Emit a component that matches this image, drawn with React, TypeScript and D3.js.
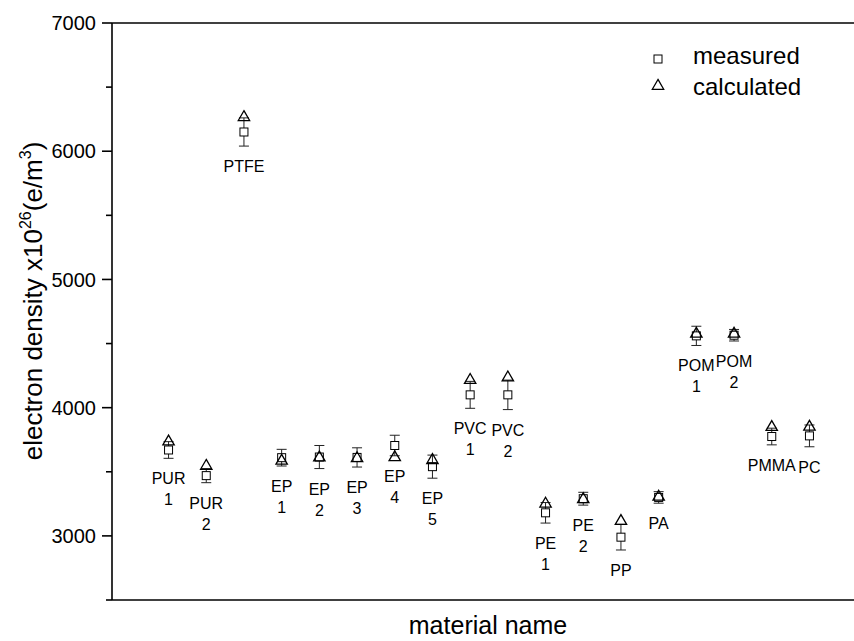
import React from "react";
import * as d3 from "d3";

const names = ["PUR", "PUR", "PTFE", "EP", "EP", "EP", "EP", "EP", "PVC", "PVC", "PE", "PE", "PP", "PA", "POM", "POM", "PMMA", "PC"];
const subLabels = ["1", "2", "", "1", "2", "3", "4", "5", "1", "2", "1", "2", "", "", "1", "2", "", ""];
const measured = [3670, 3470, 6150, 3610, 3615, 3612, 3705, 3540, 4100, 4100, 3180, 3290, 2990, 3300, 4560, 4565, 3775, 3780];
const measuredErr = [65, 55, 110, 65, 90, 75, 80, 90, 105, 115, 80, 50, 100, 45, 75, 45, 65, 85];
const calculated = [3735, 3545, 6265, 3585, 3610, 3605, 3612, 3590, 4215, 4235, 3250, 3285, 3115, 3305, 4575, 4575, 3848, 3850];
const yMajorTicks = [3000, 4000, 5000, 6000, 7000];
const yMinorTicks = [2500, 3500, 4500, 5500, 6500];
const legendLabels = ["measured", "calculated"];

const W = 854;
const H = 641;
const FONT = "'Liberation Sans', Arial, Helvetica, sans-serif";

export default function App() {
  const left = 112, top = 23, bottom = 600;
  const y = d3.scaleLinear().domain([2500, 7000]).range([bottom, top]);
  const x = d3.scaleLinear().domain([-1.5, 18.5]).range([left, left + 20 * 37.7]);
  const tri = d3.symbol().type(d3.symbolTriangle).size(56)();

  return (
    <svg width={W} height={H} style={{ position: "absolute", left: 0, top: 0, background: "#fff" }} fontFamily={FONT}>
      <rect x={0} y={0} width={W} height={H} fill="#fff" />
      {/* frame */}
      <line x1={left} x2={W} y1={top} y2={top} stroke="#000" strokeWidth={1.6} />
      <line x1={left} x2={W} y1={bottom} y2={bottom} stroke="#000" strokeWidth={1.6} />
      <line x1={left} x2={left} y1={top} y2={bottom} stroke="#000" strokeWidth={1.6} />
      {yMajorTicks.map((t) => (
        <g key={"M" + t}>
          <line x1={left - 10} x2={left} y1={y(t)} y2={y(t)} stroke="#000" strokeWidth={1.6} />
          <text x={left - 16} y={y(t)} dy="0.36em" textAnchor="end" fontSize={20} fill="#000">{t}</text>
        </g>
      ))}
      {yMinorTicks.map((t) => (
        <line key={"m" + t} x1={left - 6} x2={left} y1={y(t)} y2={y(t)} stroke="#000" strokeWidth={1.6} />
      ))}
      {/* axis titles */}
      <text transform={`translate(42,301) rotate(-90)`} textAnchor="middle" fontSize={26} fill="#000">
        electron density x10<tspan dy={-11} fontSize={16}>26</tspan><tspan dy={11}>(e/m</tspan><tspan dy={-11} fontSize={16}>3</tspan><tspan dy={11}>)</tspan>
      </text>
      <text x={488} y={634} textAnchor="middle" fontSize={25} fill="#000">material name</text>

      {/* data */}
      {names.map((n, i) => {
        const cx = x(i);
        const my = y(measured[i]);
        const eTop = y(measured[i] + measuredErr[i]);
        const eBot = y(measured[i] - measuredErr[i]);
        const cy = y(calculated[i]);
        const labY = eBot + 26;
        return (
          <g key={i}>
            <line x1={cx} x2={cx} y1={eTop} y2={eBot} stroke="#222" strokeWidth={1} />
            <line x1={cx - 5} x2={cx + 5} y1={eTop} y2={eTop} stroke="#222" strokeWidth={1} />
            <line x1={cx - 5} x2={cx + 5} y1={eBot} y2={eBot} stroke="#222" strokeWidth={1} />
            <rect x={cx - 4} y={my - 4} width={8} height={8} fill="#fff" stroke="#000" strokeWidth={1} />
            <path d={tri} transform={`translate(${cx},${cy})`} fill="none" stroke="#000" strokeWidth={1.3} />
            <text x={cx} y={labY} textAnchor="middle" fontSize={16} fill="#000">{n}</text>
            {subLabels[i] && (
              <text x={cx} y={labY + 21} textAnchor="middle" fontSize={16} fill="#000">{subLabels[i]}</text>
            )}
          </g>
        );
      })}

      {/* legend */}
      <rect x={654} y={55} width={8} height={8} fill="#fff" stroke="#000" strokeWidth={1} />
      <path d={tri} transform="translate(658,86)" fill="none" stroke="#000" strokeWidth={1.3} />
      <text x={693} y={64} fontSize={24} fill="#000">{legendLabels[0]}</text>
      <text x={693} y={95} fontSize={24} fill="#000">{legendLabels[1]}</text>
    </svg>
  );
}
